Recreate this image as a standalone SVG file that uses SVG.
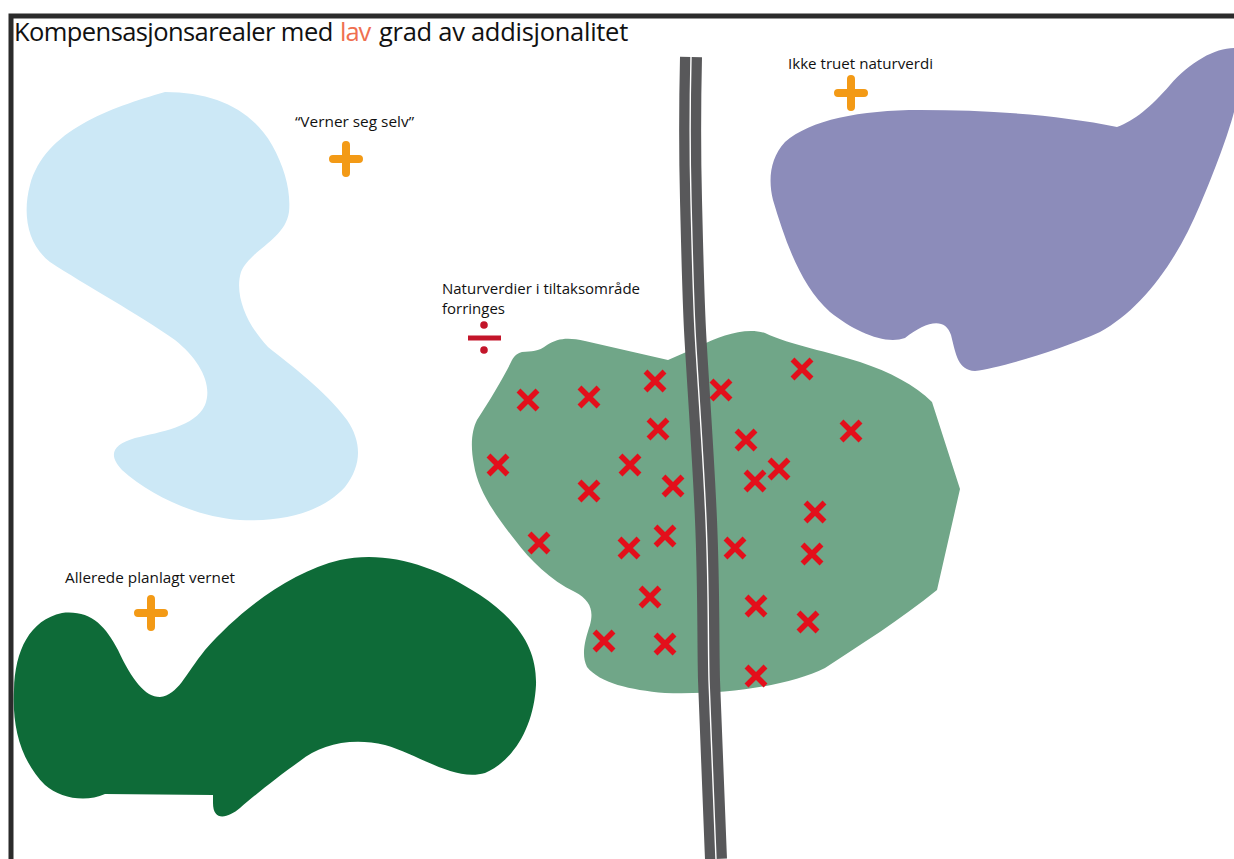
<svg xmlns="http://www.w3.org/2000/svg" width="1234" height="859" viewBox="0 0 1234 859">
<defs>
<style>
text{font-family:"Open Sans","Noto Sans","Liberation Sans",sans-serif;fill:#111}
.lbl{font-size:15px}
.ttl{font-size:25.5px}
.plus{stroke:#f39a16;stroke-width:8;stroke-linecap:round;fill:none}
.x{stroke:#e30f1b;stroke-width:5.5;fill:none}
</style>
<path id="p" d="M-13 0H13M0 -14V14" class="plus"/>
<path id="x" d="M-9.5 -9.5L9.5 9.5M9.5 -9.5L-9.5 9.5" class="x"/>
</defs>
<rect width="1234" height="859" fill="#fff"/>
<path d="M1240 16H11V859" fill="none" stroke="#2b2b2b" stroke-width="5"/>
<text class="ttl" x="14" y="41" letter-spacing="-0.58">Kompensasjonsarealer med</text>
<text class="ttl" x="340" y="41" letter-spacing="-1" style="fill:#ef6f50">lav</text>
<text class="ttl" x="379" y="41" letter-spacing="-0.28">grad av addisjonalitet</text>

<g id="lightblue">
<path fill="#cce8f6" d="M165 92C215 92 252 110 272 145C285 168 291 192 289 212C285 240 250 250 241 272C234 295 247 325 268 347C290 365 325 390 347 420C362 442 362 465 345 487C322 512 285 522 240 520C195 517 150 495 122 470C108 455 112 445 135 438C160 432 195 427 205 405C213 385 200 360 175 340C140 315 85 285 50 262C28 245 22 215 30 185C45 130 110 108 165 92Z"/>
<text class="lbl" x="295" y="127" textLength="119" lengthAdjust="spacingAndGlyphs">“Verner seg selv”</text>
<use href="#p" x="346" y="159"/>
</g>

<g id="purple">
<path fill="#8c8cba" d="M1234 48C1215 48 1190 62 1170 85C1150 108 1135 120 1117 127C1060 115 990 110 920 110C860 110 810 120 785 142C770 158 768 180 773 200C785 240 800 285 830 312C855 332 885 345 905 338C925 322 945 316 951 335C956 355 958 370 975 371C1000 368 1060 350 1100 332C1140 310 1175 265 1200 205C1215 170 1228 135 1234 112Z"/>
<text class="lbl" x="788" y="69" textLength="145" lengthAdjust="spacingAndGlyphs">Ikke truet naturverdi</text>
<use href="#p" x="851" y="93"/>
</g>

<g id="darkgreen">
<path fill="#0e6b38" d="M62 613C90 610 105 625 118 650C132 680 145 697 160 697C178 695 185 675 205 650C240 610 290 572 340 560C385 550 435 565 480 595C520 622 537 650 536 685C534 725 515 760 485 773C455 782 420 755 385 745C350 737 320 745 300 761C280 775 255 795 240 808C228 818 213 822 213 803V795L105 794C85 803 60 798 45 785C20 760 12 725 14 690C15 650 30 620 62 613Z"/>
<text class="lbl" x="65" y="583" textLength="170" lengthAdjust="spacingAndGlyphs">Allerede planlagt vernet</text>
<use href="#p" x="151" y="613"/>
</g>

<g id="midgreen">
<path fill="#70a688" d="M522 352C532 351 538 352 547 345C558 338 568 337 585 341L668 360L700 346C720 336 745 327 765 333C790 345 830 352 860 362C890 372 915 385 932 402L960 489L937 590C900 620 860 645 825 668C790 685 730 695 665 693C630 690 600 683 587 667C581 655 585 640 590 625C594 610 590 600 575 592C550 580 530 560 515 540C495 515 478 490 474 465C470 445 472 430 477 420C490 400 505 375 512 360C515 355 518 353 522 352Z"/>
<text class="lbl" x="442" y="294" textLength="198" lengthAdjust="spacingAndGlyphs">Naturverdier i tiltaksområde</text>
<text class="lbl" x="442" y="314" textLength="63" lengthAdjust="spacingAndGlyphs">forringes</text>
<path d="M468 338H501" stroke="#c3152a" stroke-width="5"/>
<circle cx="484" cy="325" r="3.8" fill="#c3152a"/><circle cx="484" cy="350" r="3.8" fill="#c3152a"/>
</g>

<g id="road">
<path fill="none" stroke="#58585a" stroke-width="22" d="M691 57C690 100 690 160 691 200S693 290 695 330S703 450 706 520S708 640 709 680S713 790 716 859"/>
<path fill="none" stroke="#fff" stroke-width="1.4" d="M691 57C690 100 690 160 691 200S693 290 695 330S703 450 706 520S708 640 709 680S713 790 716 859"/>
</g>

<g id="crosses">
<use href="#x" x="528" y="400"/><use href="#x" x="589" y="397"/><use href="#x" x="655" y="381"/><use href="#x" x="721" y="390"/><use href="#x" x="802" y="369"/>
<use href="#x" x="658" y="429"/><use href="#x" x="746" y="440"/><use href="#x" x="851" y="431"/><use href="#x" x="498" y="465"/><use href="#x" x="630" y="465"/>
<use href="#x" x="779" y="469"/><use href="#x" x="755" y="481"/><use href="#x" x="673" y="486"/><use href="#x" x="589" y="491"/><use href="#x" x="815" y="512"/>
<use href="#x" x="539" y="543"/><use href="#x" x="665" y="536"/><use href="#x" x="629" y="548"/><use href="#x" x="735" y="548"/><use href="#x" x="812" y="554"/>
<use href="#x" x="650" y="597"/><use href="#x" x="756" y="606"/><use href="#x" x="808" y="622"/><use href="#x" x="604" y="641"/><use href="#x" x="665" y="644"/><use href="#x" x="756" y="676"/>
</g>
</svg>
